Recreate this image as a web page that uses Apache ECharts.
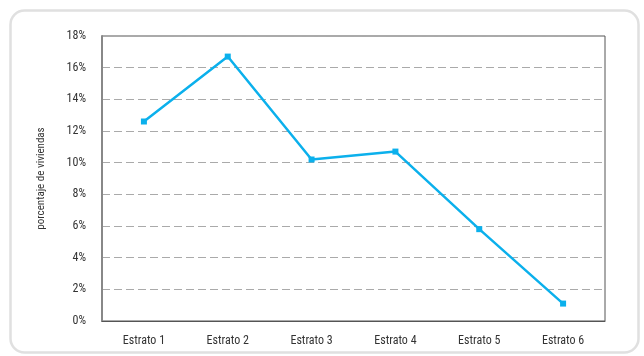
<!DOCTYPE html>
<html>
<head>
<meta charset="utf-8">
<script src="https://cdn.jsdelivr.net/npm/echarts@6/dist/echarts.min.js"></script>
<style>
  html, body { margin: 0; padding: 0; background: #fff; }
  #chart { width: 644px; height: 356px; }
</style>
</head>
<body>
<div id="chart"></div>
<script>
// Share of dwellings by socio-economic stratum
var categories = ['Estrato 1', 'Estrato 2', 'Estrato 3', 'Estrato 4', 'Estrato 5', 'Estrato 6'];
var viviendas = [12.6, 16.7, 10.2, 10.7, 5.8, 1.1];
var yTicks = [0, 2, 4, 6, 8, 10, 12, 14, 16, 18];

var FONT = '"Liberation Sans Narrow", "Roboto Condensed", Roboto, sans-serif';
var chart = echarts.init(document.getElementById('chart'), null, { renderer: 'canvas' });

chart.setOption({
  backgroundColor: '#fff',
  animation: false,
  graphic: [{
    type: 'rect',
    left: 8, top: 8,
    shape: { width: 628, height: 342, r: 14 },
    style: { fill: 'none', stroke: '#e0e0e0', lineWidth: 2.5 },
    z: -1
  }],
  grid: {
    left: 102, right: 39, top: 36, bottom: 35,
    show: true, borderColor: '#555', borderWidth: 1
  },
  xAxis: {
    type: 'category',
    data: categories,
    boundaryGap: true,
    axisLine: { lineStyle: { color: '#555', width: 1 } },
    axisTick: { show: false },
    axisLabel: { color: '#333', fontFamily: FONT, fontSize: 12, margin: 14 }
  },
  yAxis: {
    type: 'value',
    min: yTicks[0], max: yTicks[yTicks.length - 1], interval: 2,
    name: 'porcentaje de viviendas',
    nameLocation: 'middle',
    nameGap: 55,
    nameTextStyle: { color: '#333', fontFamily: FONT, fontSize: 11 },
    axisLine: { show: true, lineStyle: { color: '#888', width: 2 } },
    axisTick: { show: false },
    axisLabel: { color: '#333', fontFamily: FONT, fontSize: 12, margin: 16, formatter: '{value}%' },
    splitLine: { lineStyle: { color: '#aaa', type: [8, 4], width: 1 } }
  },
  series: [{
    type: 'line',
    data: viviendas,
    symbol: 'rect',
    symbolSize: 6,
    lineStyle: { color: '#0BB0EC', width: 2.5 },
    itemStyle: { color: '#0BB0EC' }
  }]
});
</script>
</body>
</html>
